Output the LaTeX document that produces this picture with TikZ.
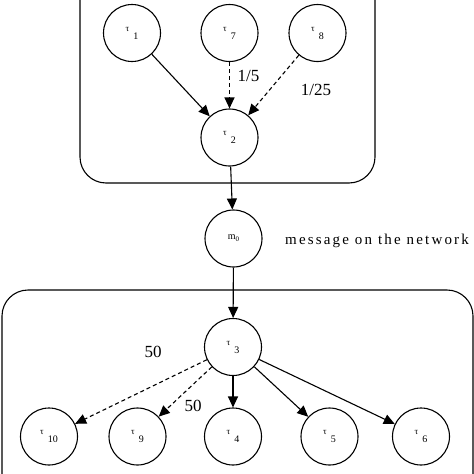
\documentclass[tikz,border=0pt]{standalone}
\usepackage{fontspec}
\setmainfont{Liberation Serif}
\newfontfamily\spacedfont[LetterSpace=14.5]{Liberation Serif}
\usetikzlibrary{arrows.meta}
\tikzset{
  tnode/.style={circle, draw, line width=1.1pt, minimum size=57pt, inner sep=0pt},
  arr/.style={line width=1.1pt, -{Triangle[length=11pt,width=10pt]}},
  darr/.style={arr, dash pattern=on 4pt off 3pt},
  grp/.style={draw, line width=1.1pt, rounded corners=26pt},
  lbl/.style={font=\fontsize{17}{18}\selectfont, inner sep=0pt}
}
\newcommand{\tl}[1]{\raisebox{3.5pt}{\fontsize{9}{10}\selectfont τ}\hspace{4pt}\raisebox{-4.5pt}{\fontsize{10}{11}\selectfont #1}}
\begin{document}
\begin{tikzpicture}[x=1pt,y=-1pt]
\useasboundingbox (0,0) rectangle (474,474);
\begin{scope}
\clip (0,0) rectangle (474,474);
\draw[grp] (80,-40) rectangle (375,183);
\draw[grp] (2,290) rectangle (473,520);
\end{scope}
\node[tnode] (t1) at (132,33) {\tl{1}};
\node[tnode] (t7) at (229.5,33) {\tl{7}};
\node[tnode] (t8) at (317.5,33) {\tl{8}};
\node[tnode] (t2) at (229.5,137.5) {\tl{2}};
\node[tnode] (m0) at (233.5,238.5) {\fontsize{10}{11}\selectfont m\raisebox{-2pt}{\fontsize{7}{8}\selectfont 0}};
\node[tnode] (t3) at (233,347) {\tl{3}};
\node[tnode] (t10) at (49,436.5) {\tl{10}};
\node[tnode] (t9) at (137.5,436.5) {\tl{9}};
\node[tnode] (t4) at (233,436.5) {\tl{4}};
\node[tnode] (t5) at (329.5,436.5) {\tl{5}};
\node[tnode] (t6) at (421,436.5) {\tl{6}};
\draw[arr] (t1) -- (t2);
\draw[darr] (t7) -- (t2);
\draw[darr] (t8) -- (t2);
\draw[arr] (t2) -- (m0);
\draw[arr] (m0) -- (t3);
\draw[darr] (t3) -- (t10);
\draw[darr] (t3) -- (t9);
\draw[arr] (t3) -- (t4);
\draw[arr] (t3) -- (t5);
\draw[arr] (t3) -- (t6);
\node[lbl] (l1) at (248.5,76) {1/5};
\node[lbl] (l2) at (316,90) {1/25};
\node[lbl] (l3) at (153,352) {50};
\node[lbl] (l4) at (193,406) {50};
\node[anchor=west, inner sep=0pt, font=\fontsize{15}{16}\spacedfont] (msg) at (285,241) {message on the network};
\end{tikzpicture}
\end{document}
